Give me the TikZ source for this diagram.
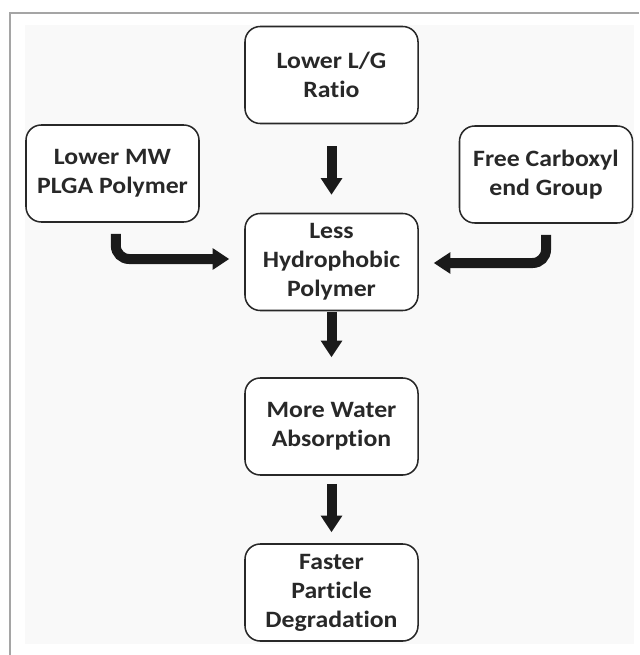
\documentclass[tikz,border=0pt]{standalone}
\usepackage{fontspec}
\setmainfont{Carlito}[FakeStretch=1.1, Ligatures=NoCommon]
\usepackage{xcolor}
\usetikzlibrary{arrows.meta,positioning,calc}
\definecolor{fline}{RGB}{40,40,40}
\definecolor{farrow}{RGB}{26,26,26}
\definecolor{fframe}{RGB}{165,165,165}
\definecolor{fback}{RGB}{249,249,249}
\tikzset{
  box/.style ={rectangle, rounded corners=13pt, draw=fline, line width=1.3pt, fill=white,
               align=center, minimum width=5.19cm, minimum height=2.91cm, inner sep=2pt,
               text=fline, font=\fontsize{20}{24.8}\selectfont\bfseries},
  ar/.style  ={-{Triangle[width=0.62cm,length=0.5cm]}, draw=farrow, line width=0.3cm},
  arb/.style ={ar, rounded corners=0.4cm}
}

\begin{document}
\begin{tikzpicture}[x=0.03cm,y=-0.03cm]
\useasboundingbox (0,0) rectangle (639,655);
\fill[fback] (25,25) rectangle (634,644);
\draw[fframe, line width=1.3pt] (10,655) -- (10,13) -- (639,13);

\node[box] (ratio) at (331.5,75)    {Lower L/G\\Ratio};
\node[box] (mw)    at (112.5,173.5) {Lower MW\\PLGA Polymer};
\node[box] (carb)  at (546,174.5)   {Free Carboxyl\\end Group};
\node[box] (hydro) at (331.5,262)   {Less\\Hydrophobic\\Polymer};
\node[box] (water) at (331.5,426.5) {More Water\\Absorption};
\node[box] (degr)  at (331.5,592.5) {Faster\\Particle\\Degradation};

\draw[ar, shorten <=0.66cm, shorten >=0.54cm] (ratio) -- (hydro);
\draw[ar, shorten <=0.02cm, shorten >=0.6cm] (hydro) -- (water);
\draw[ar, shorten <=0.24cm, shorten >=0.33cm] (water) -- (degr);
\draw[arb, shorten <=0.33cm, shorten >=0.45cm] ([xshift=0.1cm]mw.south) |- ([yshift=0.09cm]hydro.west);
\draw[arb, shorten <=0.33cm, shorten >=0.45cm] (carb.south) |- ([yshift=-0.03cm]hydro.east);
\end{tikzpicture}
\end{document}
